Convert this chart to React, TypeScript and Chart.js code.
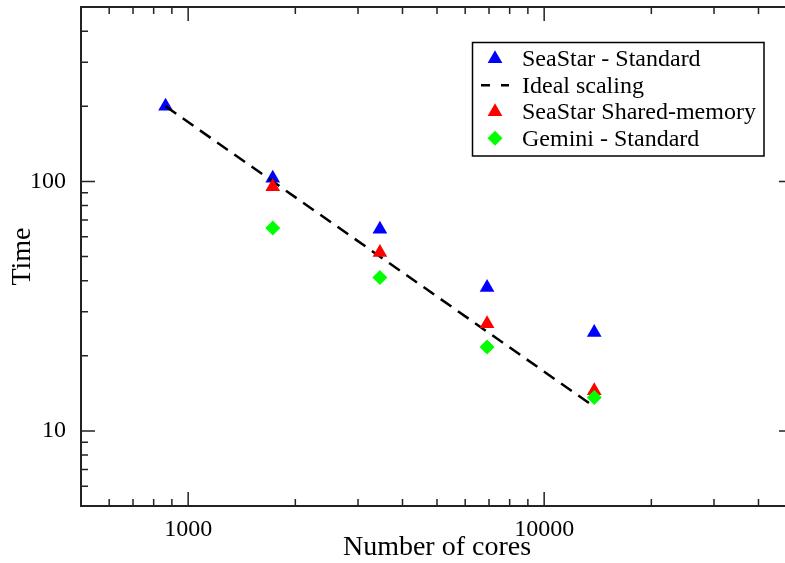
import React, { useEffect, useRef } from 'react';
import { Chart, registerables } from 'chart.js';

Chart.register(...registerables);

// ---- data ----
const seastarCores = [864, 1728, 3456, 6912, 13824];
const seastarStandardTime = [200, 103, 64.3, 37.6, 24.8];
const idealCores = [864, 13824];
const idealTime = [200, 12.5];
const sharedCores = [1728, 3456, 6912, 13824];
const sharedTime = [95.1, 51.9, 26.9, 14.5];
const geminiCores = [1728, 3456, 6912, 13824];
const geminiTime = [65.0, 41.2, 21.7, 13.6];

const seriesLabels = ['SeaStar - Standard', 'Ideal scaling', 'SeaStar Shared-memory', 'Gemini - Standard'];

const xMin = 500;
const xMax = 50000;
const yMin = 5;
const yMax = 500;
const xTicks = [500, 600, 700, 800, 900, 1000, 2000, 3000, 4000, 5000, 6000, 7000, 8000, 9000, 10000, 20000, 30000, 40000, 50000];
const xLabeled = [1000, 10000];
const yTicks = [5, 6, 7, 8, 9, 10, 20, 30, 40, 50, 60, 70, 80, 90, 100, 200, 300, 400, 500];
const yLabeled = [10, 100];

const FONT = "'Liberation Serif', 'Times New Roman', Times, serif";

const toXY = (xs: number[], ys: number[]) => xs.map((x, i) => ({ x, y: ys[i] }));

const framePlugin = {
  id: 'frameTicks',
  afterDatasetsDraw(chart: any) {
    const { ctx, chartArea: a, scales } = chart;
    const xs = scales.x;
    const ys = scales.y;
    ctx.save();
    ctx.strokeStyle = '#222';
    ctx.lineWidth = 2;
    ctx.strokeRect(a.left, a.top, a.right - a.left, a.bottom - a.top);
    ctx.lineWidth = 1.5;
    ctx.beginPath();
    for (const t of xs.ticks) {
      const px = xs.getPixelForValue(t.value);
      if (px <= a.left + 1 || px >= a.right - 1) continue;
      const len = xLabeled.includes(t.value) ? 14 : 7;
      ctx.moveTo(px, a.bottom);
      ctx.lineTo(px, a.bottom - len);
      ctx.moveTo(px, a.top);
      ctx.lineTo(px, a.top + len);
    }
    for (const t of ys.ticks) {
      const py = ys.getPixelForValue(t.value);
      if (py <= a.top + 1 || py >= a.bottom - 1) continue;
      const major = yLabeled.includes(t.value);
      const len = major ? 14 : 7;
      ctx.moveTo(a.left, py);
      ctx.lineTo(a.left + len, py);
      if (major) {
        ctx.moveTo(a.right, py);
        ctx.lineTo(a.right - len, py);
      }
    }
    ctx.stroke();
    ctx.restore();
  },
};

const legendPlugin = {
  id: 'boxLegend',
  afterDraw(chart: any) {
    const ctx = chart.ctx;
    const ds = chart.data.datasets;
    ctx.save();
    ctx.fillStyle = '#fff';
    ctx.fillRect(472.5, 42.5, 291.5, 113.5);
    ctx.strokeStyle = '#000';
    ctx.lineWidth = 1.5;
    ctx.strokeRect(472.5, 42.5, 291.5, 113.5);
    ds.forEach((d: any, i: number) => {
      const base = 66.3 + 26.5 * i;
      const cy = base - 7.5;
      const cx = 495;
      if (d.showLine) {
        ctx.strokeStyle = d.borderColor;
        ctx.lineWidth = 2.5;
        ctx.setLineDash([9, 11]);
        ctx.beginPath();
        ctx.moveTo(481, cy);
        ctx.lineTo(509, cy);
        ctx.stroke();
        ctx.setLineDash([]);
      } else if (d.pointStyle === 'triangle') {
        const r = d.pointRadius;
        const s = Math.sin((2 * Math.PI) / 3) * r;
        ctx.fillStyle = d.backgroundColor;
        ctx.beginPath();
        ctx.moveTo(cx, cy - r);
        ctx.lineTo(cx + s, cy + r / 2);
        ctx.lineTo(cx - s, cy + r / 2);
        ctx.closePath();
        ctx.fill();
      } else {
        const r = d.pointRadius;
        ctx.fillStyle = d.backgroundColor;
        ctx.beginPath();
        ctx.moveTo(cx - r, cy);
        ctx.lineTo(cx, cy - r);
        ctx.lineTo(cx + r, cy);
        ctx.lineTo(cx, cy + r);
        ctx.closePath();
        ctx.fill();
      }
      ctx.fillStyle = '#000';
      ctx.font = `24px ${FONT}`;
      ctx.textAlign = 'left';
      ctx.textBaseline = 'alphabetic';
      ctx.fillText(d.label, 522, base);
    });
    ctx.restore();
  },
};

export default function App() {
  const ref = useRef<HTMLCanvasElement>(null);

  useEffect(() => {
    const chart = new Chart(ref.current as HTMLCanvasElement, {
      type: 'scatter',
      data: {
        datasets: [
          {
            label: seriesLabels[0],
            data: toXY(seastarCores, seastarStandardTime),
            pointStyle: 'triangle',
            pointRadius: 8.5,
            borderWidth: 0,
            backgroundColor: '#0000ff',
            borderColor: '#0000ff',
            order: 4,
          },
          {
            label: seriesLabels[1],
            data: toXY(idealCores, idealTime),
            showLine: true,
            pointRadius: 0,
            borderColor: '#000000',
            backgroundColor: '#000000',
            borderWidth: 2.5,
            borderDash: [13, 8],
            order: 3,
          },
          {
            label: seriesLabels[2],
            data: toXY(sharedCores, sharedTime),
            pointStyle: 'triangle',
            pointRadius: 8.5,
            borderWidth: 0,
            backgroundColor: '#ff0000',
            borderColor: '#ff0000',
            order: 2,
          },
          {
            label: seriesLabels[3],
            data: toXY(geminiCores, geminiTime),
            pointStyle: 'rectRot',
            pointRadius: 7.5,
            borderWidth: 0,
            backgroundColor: '#00ff00',
            borderColor: '#00ff00',
            order: 1,
          },
        ] as any,
      },
      options: {
        responsive: false,
        animation: false,
        devicePixelRatio: 1,
        layout: { padding: { top: 7, right: 2, left: 0, bottom: 0 }, autoPadding: false } as any,
        plugins: {
          legend: { display: false },
          tooltip: { enabled: false },
        },
        scales: {
          x: {
            type: 'logarithmic',
            position: 'bottom',
            min: xMin,
            max: xMax,
            grid: { display: false },
            border: { display: false },
            afterBuildTicks: (scale: any) => {
              scale.ticks = xTicks.map((v) => ({ value: v, major: xLabeled.includes(v) }));
            },
            afterFit: (scale: any) => {
              scale.height = 57;
              scale.paddingLeft = 0;
              scale.paddingRight = 0;
            },
            ticks: {
              autoSkip: false,
              maxRotation: 0,
              minRotation: 0,
              padding: 1,
              color: '#000',
              font: { family: FONT, size: 24 },
              callback: (v: any) => (xLabeled.includes(Number(v)) ? String(v) : ''),
            },
            title: {
              display: true,
              text: 'Number of cores',
              color: '#000',
              font: { family: FONT, size: 28 },
              padding: { top: 0, bottom: -1 },
            },
          },
          y: {
            type: 'logarithmic',
            position: 'left',
            min: yMin,
            max: yMax,
            grid: { display: false },
            border: { display: false },
            afterBuildTicks: (scale: any) => {
              scale.ticks = yTicks.map((v) => ({ value: v, major: yLabeled.includes(v) }));
            },
            afterFit: (scale: any) => {
              scale.width = 81;
              scale.paddingTop = 0;
              scale.paddingBottom = 0;
            },
            ticks: {
              autoSkip: false,
              padding: 7,
              color: '#000',
              font: { family: FONT, size: 24 },
              callback: (v: any) => (yLabeled.includes(Number(v)) ? String(v) : ''),
            },
            title: {
              display: true,
              text: 'Time',
              color: '#000',
              font: { family: FONT, size: 28 },
              padding: { top: 5.5, bottom: 0 },
            },
          },
        },
      } as any,
      plugins: [framePlugin, legendPlugin],
    });
    return () => chart.destroy();
  }, []);

  return (
    <div
      style={{
        position: 'fixed',
        left: 0,
        top: 0,
        width: 785,
        height: 563,
        overflow: 'hidden',
        background: '#fff',
      }}
    >
      <canvas ref={ref} width={795} height={563} style={{ display: 'block', width: 795, height: 563 }} />
    </div>
  );
}
